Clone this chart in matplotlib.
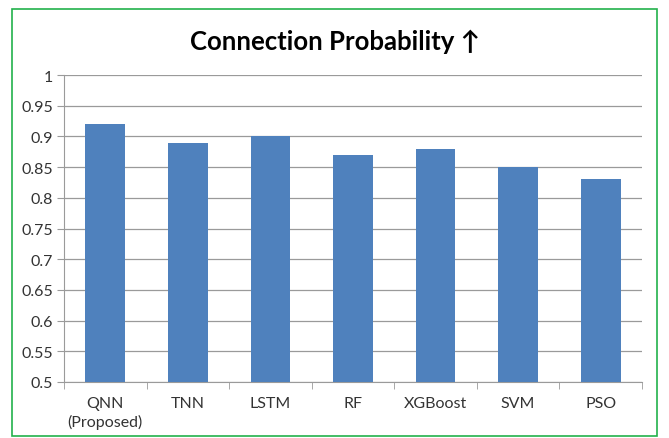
import matplotlib.pyplot as plt
from matplotlib.patches import Rectangle
import numpy as np

# Connection probability per model
models = ["QNN\n(Proposed)", "TNN", "LSTM", "RF", "XGBoost", "SVM", "PSO"]
probability = [0.92, 0.89, 0.90, 0.87, 0.88, 0.85, 0.83]
yticks = [0.5, 0.55, 0.6, 0.65, 0.7, 0.75, 0.8, 0.85, 0.9, 0.95, 1]
ytick_labels = ["0.5", "0.55", "0.6", "0.65", "0.7", "0.75", "0.8", "0.85", "0.9", "0.95", "1"]

plt.rcParams['font.family'] = ['Lato', 'DejaVu Sans']

fig = plt.figure(figsize=(6.69, 4.39), dpi=100)
W, H = 669, 439

# green chart border
fig.patches.append(Rectangle((12 / W, 1 - 437 / H), (657 - 12) / W, (437 - 10) / H,
                             transform=fig.transFigure, fill=False,
                             edgecolor="#22b14c", linewidth=1.2))

ax = fig.add_axes([64 / W, 1 - 383 / H, (642 - 64) / W, (383 - 76) / H])
x = np.arange(len(models))
ax.bar(x, probability, width=0.48, color="#4f81bd", zorder=3)

ax.set_ylim(0.5, 1)
ax.set_xlim(-0.5, len(models) - 0.5)
ax.set_yticks(yticks)
ax.set_yticklabels(ytick_labels, fontsize=11.5, color="#333333")
ax.yaxis.grid(True, color="#9a9a9a", linewidth=0.9, zorder=0)

ax.set_xticks(x)
ax.set_xticklabels(models, fontsize=11.5, linespacing=1.35, color="#333333")
ax.tick_params(axis='x', length=0, pad=10)
ax.set_xticks(np.arange(len(models) + 1) - 0.5, minor=True)
ax.tick_params(axis='x', which='minor', length=5, color="#9a9a9a")
ax.tick_params(axis='y', length=5, color="#9a9a9a", pad=3)

for side in ["top", "right"]:
    ax.spines[side].set_visible(False)
for side in ["left", "bottom"]:
    ax.spines[side].set_color("#9a9a9a")

fig.text(0.5, 1 - 42 / H, "Connection Probability \u2191", ha="center", va="center",
         fontsize=18.5, fontweight="bold")

fig.savefig("out.png", dpi=100)
